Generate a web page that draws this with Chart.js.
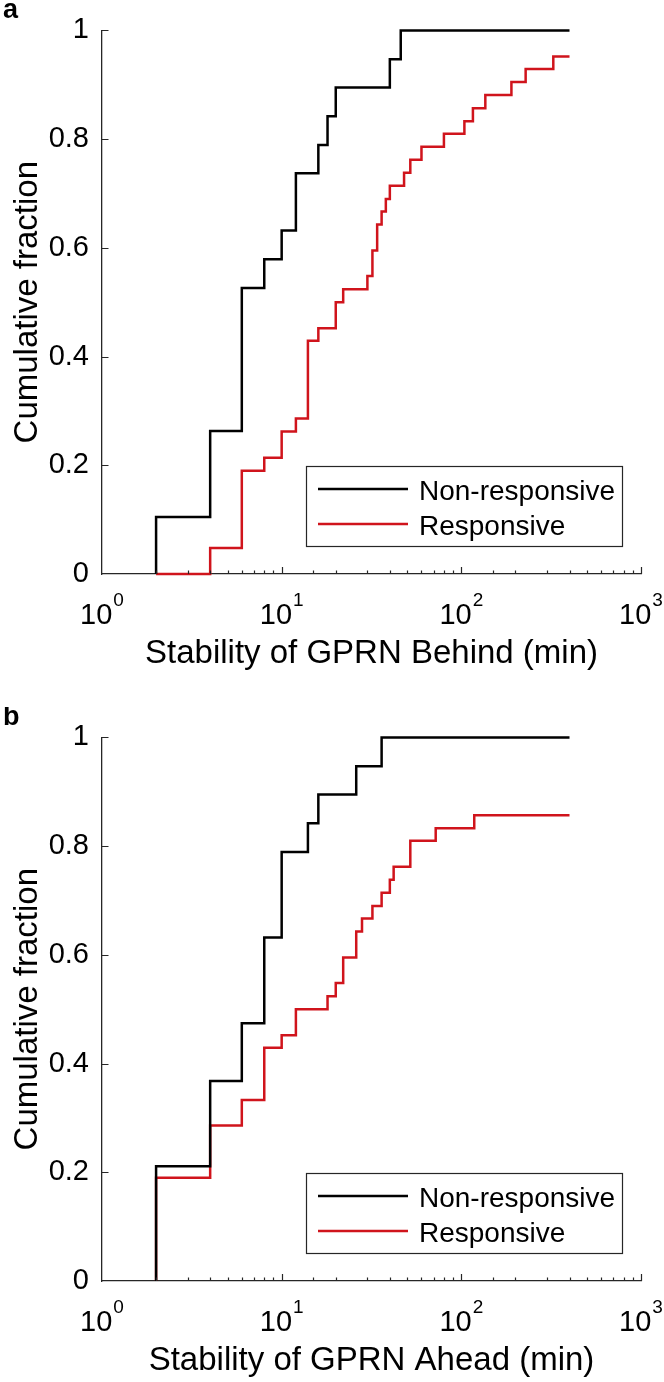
<!DOCTYPE html>
<html>
<head>
<meta charset="utf-8">
<script src="https://cdn.jsdelivr.net/npm/chart.js@4.4.1/dist/chart.umd.min.js"></script>
<style>
  html, body { margin: 0; padding: 0; background: #fff; }
  .panel { position: absolute; left: 0; width: 664px; }
  #panelA { top: 0; height: 707px; }
  #panelB { top: 707px; height: 675px; }
</style>
</head>
<body>
<div class="panel" id="panelA"><canvas id="chartA" width="664" height="707"></canvas></div>
<div class="panel" id="panelB"><canvas id="chartB" width="664" height="675"></canvas></div>
<script>
const yTicks = [0, 0.2, 0.4, 0.6, 0.8, 1];
const xTickPowers = [0, 1, 2, 3];
const seriesNames = ['Non-responsive', 'Responsive'];

// panel a: stability of GPRN behind (min)
const behindNonRespX = [2, 2, 4, 6, 8, 10, 12, 16, 18, 20, 40, 46, 400];
const behindNonRespY = [0, 0.105, 0.263, 0.526, 0.579, 0.632, 0.737, 0.789, 0.842, 0.895, 0.947, 1, 1];
const behindRespX = [2, 4, 6, 8, 10, 12, 14, 16, 20, 22, 30, 32, 34, 36, 38, 40, 48, 52, 60, 80, 104, 116, 136, 190, 228, 325, 400];
const behindRespY = [0, 0.048, 0.190, 0.214, 0.262, 0.286, 0.429, 0.452, 0.500, 0.524, 0.548, 0.595, 0.643, 0.667, 0.690, 0.714, 0.738, 0.762, 0.786, 0.810, 0.833, 0.857, 0.881, 0.905, 0.929, 0.952, 0.952];

// panel b: stability of GPRN ahead (min)
const aheadNonRespX = [2, 2, 4, 6, 8, 10, 14, 16, 26, 36, 400];
const aheadNonRespY = [0, 0.211, 0.368, 0.474, 0.632, 0.789, 0.842, 0.895, 0.947, 1, 1];
const aheadRespX = [2, 2, 4, 6, 8, 10, 12, 18, 20, 22, 26, 28, 32, 36, 40, 42, 52, 72, 118, 400];
const aheadRespY = [0, 0.190, 0.286, 0.333, 0.429, 0.452, 0.500, 0.524, 0.548, 0.595, 0.643, 0.667, 0.690, 0.714, 0.738, 0.762, 0.810, 0.833, 0.857, 0.857];

const FONT = '"Liberation Sans", Arial, Helvetica, sans-serif';
const AXIS_COLOR = '#262626';
const colors = ['#000000', '#d0141c'];

function toPoints(xs, ys) {
    return xs.map((x, i) => ({ x: x, y: ys[i] }));
}

const matlabAxes = {
    id: 'matlabAxes',
    afterDraw(chart, args, opts) {
        const ctx = chart.ctx;
        const xs = chart.scales.x;
        const ys = chart.scales.y;
        const area = chart.chartArea;
        ctx.save();

        // inward tick marks
        ctx.strokeStyle = AXIS_COLOR;
        ctx.lineWidth = 1.2;
        ctx.beginPath();
        for (const t of xs.ticks) {
            if (t.value <= 1) continue;
            const px = Math.round(xs.getPixelForValue(t.value)) + 0.5;
            const major = Math.abs(Math.log10(t.value) - Math.round(Math.log10(t.value))) < 1e-9;
            const len = major ? 7 : 3.5;
            ctx.moveTo(px, area.bottom);
            ctx.lineTo(px, area.bottom - len);
        }
        for (const v of yTicks) {
            if (v === 0) continue;
            const py = Math.round(ys.getPixelForValue(v)) + 0.5;
            ctx.moveTo(area.left, py);
            ctx.lineTo(area.left + 6.5, py);
        }
        ctx.stroke();

        // x tick labels as 10^n
        ctx.fillStyle = '#000';
        ctx.textBaseline = 'alphabetic';
        ctx.textAlign = 'left';
        for (const p of xTickPowers) {
            const px = xs.getPixelForValue(Math.pow(10, p));
            ctx.font = '29px ' + FONT;
            const wBase = ctx.measureText('10').width;
            ctx.font = '19px ' + FONT;
            const wExp = ctx.measureText(String(p)).width;
            const x0 = px - (wBase + wExp + 1) / 2;
            ctx.font = '29px ' + FONT;
            ctx.fillText('10', x0, area.bottom + 50);
            ctx.font = '19px ' + FONT;
            ctx.fillText(String(p), x0 + wBase + 1, area.bottom + 31.5);
        }

        // axis titles
        ctx.font = '33px ' + FONT;
        ctx.textAlign = 'center';
        ctx.fillText(opts.xTitle, (area.left + area.right) / 2, area.bottom + 89);
        ctx.save();
        ctx.translate(37, (area.top + area.bottom) / 2);
        ctx.rotate(-Math.PI / 2);
        ctx.fillText('Cumulative fraction', 0, 0);
        ctx.restore();

        // panel letter
        ctx.font = 'bold 27px ' + FONT;
        ctx.textAlign = 'left';
        ctx.fillText(opts.letter, 3, 18);

        // legend box
        const b = opts.legendBox;
        ctx.fillStyle = '#fff';
        ctx.fillRect(b.x, b.y, b.w, b.h);
        ctx.strokeStyle = AXIS_COLOR;
        ctx.lineWidth = 1.2;
        ctx.strokeRect(b.x + 0.5, b.y + 0.5, b.w, b.h);
        chart.data.datasets.forEach((ds, i) => {
            const ly = b.y + 23 + i * 35;
            ctx.strokeStyle = ds.borderColor;
            ctx.lineWidth = ds.borderWidth;
            ctx.beginPath();
            ctx.moveTo(b.x + 12, ly);
            ctx.lineTo(b.x + 102, ly);
            ctx.stroke();
            ctx.fillStyle = '#000';
            ctx.font = '28px ' + FONT;
            ctx.textBaseline = 'alphabetic';
            ctx.fillText(ds.label, b.x + 113, ly + 10.5);
        });
        ctx.restore();
    }
};

function makePanel(canvasId, letter, xTitle, nonX, nonY, respX, respY) {
    const canvas = document.getElementById(canvasId);
    const H = canvas.height;
    return new Chart(canvas.getContext('2d'), {
        type: 'line',
        data: {
            datasets: [
                {
                    label: seriesNames[0],
                    data: toPoints(nonX, nonY),
                    borderColor: colors[0],
                    borderWidth: 2.5,
                    stepped: 'before',
                    pointRadius: 0,
                    fill: false,
                    clip: false,
                },
                {
                    label: seriesNames[1],
                    data: toPoints(respX, respY),
                    borderColor: colors[1],
                    borderWidth: 2.5,
                    stepped: 'before',
                    pointRadius: 0,
                    fill: false,
                    clip: false,
                },
            ],
        },
        options: {
            responsive: false,
            animation: false,
            devicePixelRatio: 1,
            layout: { padding: { top: 18, right: 23, left: 0, bottom: 0 } },
            plugins: {
                legend: { display: false },
                tooltip: { enabled: false },
                matlabAxes: {
                    letter: letter,
                    xTitle: xTitle,
                    legendBox: { x: 306, y: 466, w: 316, h: 80 },
                },
            },
            scales: {
                x: {
                    type: 'logarithmic',
                    min: 1,
                    max: 1000,
                    grid: { display: false, drawTicks: false },
                    border: { display: true, color: AXIS_COLOR, width: 1.3 },
                    ticks: { display: false, autoSkip: false },
                    afterFit: (scale) => { scale.height = H - 574; },
                },
                y: {
                    min: 0,
                    max: 1,
                    grid: { display: false, drawTicks: false },
                    border: { display: true, color: AXIS_COLOR, width: 1.3 },
                    ticks: {
                        stepSize: 0.2,
                        padding: 13,
                        color: '#000',
                        font: { family: FONT, size: 29 },
                        callback: (v) => String(Math.round(v * 10) / 10),
                    },
                    afterFit: (scale) => { scale.width = 102; },
                },
            },
        },
        plugins: [matlabAxes],
    });
}

makePanel('chartA', 'a', 'Stability of GPRN Behind (min)', behindNonRespX, behindNonRespY, behindRespX, behindRespY);
makePanel('chartB', 'b', 'Stability of GPRN Ahead (min)', aheadNonRespX, aheadNonRespY, aheadRespX, aheadRespY);
</script>
</body>
</html>
